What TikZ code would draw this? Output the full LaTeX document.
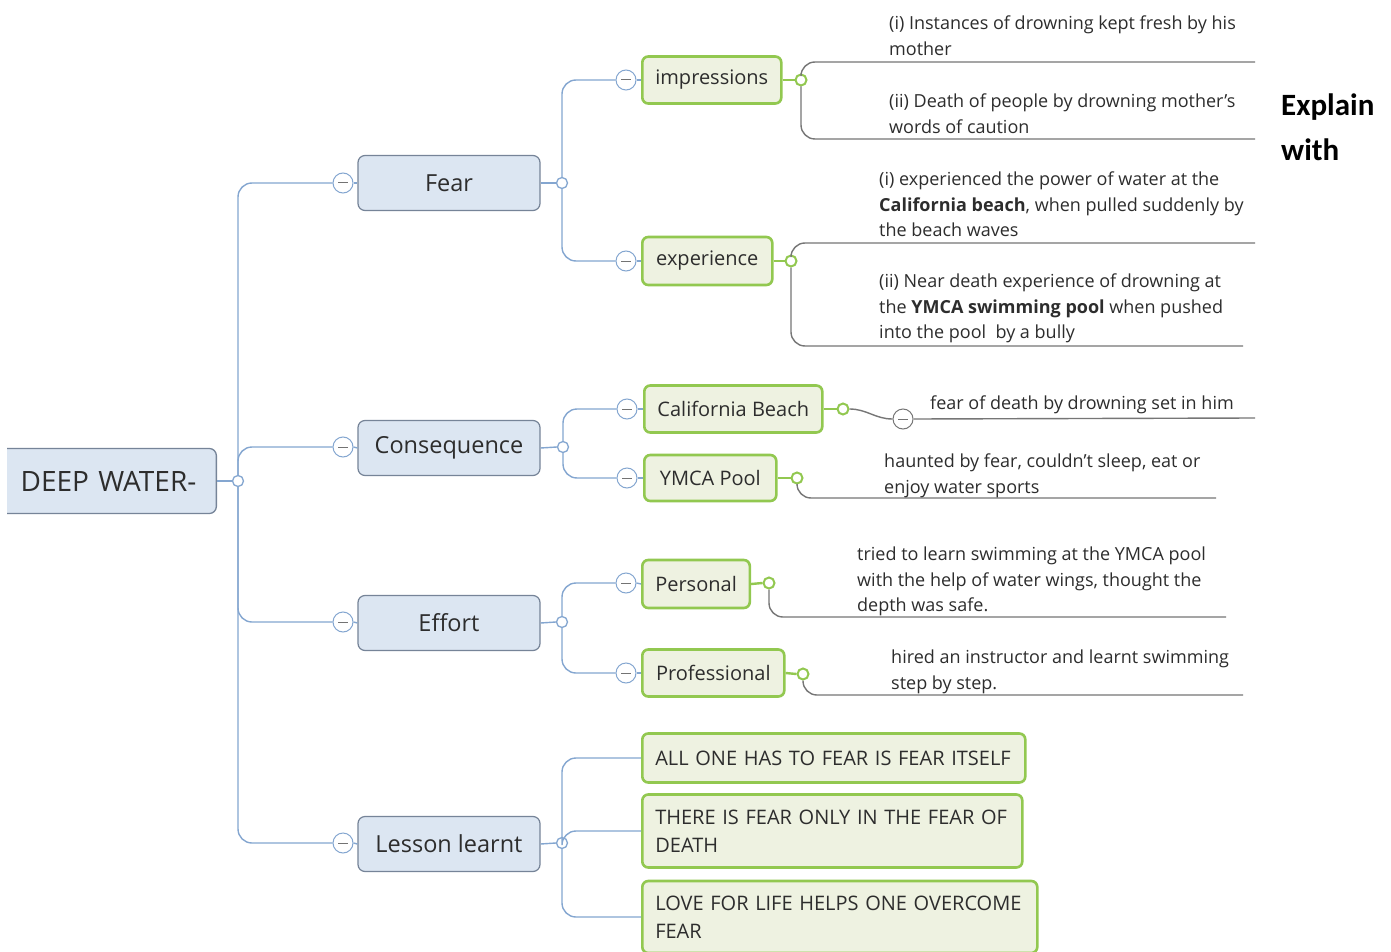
\documentclass[tikz,border=0pt]{standalone}
\usepackage{fontspec}
\setmainfont{Open Sans}
\newfontfamily\explainfont{Carlito}

\definecolor{mapblue}{RGB}{132,166,208}
\definecolor{topicfill}{RGB}{220,230,242}
\definecolor{topicline}{RGB}{118,132,152}
\definecolor{leafline}{RGB}{146,200,80}
\definecolor{leaffill}{RGB}{238,242,225}
\definecolor{notegray}{RGB}{118,118,118}
\definecolor{inktext}{RGB}{45,45,45}

\tikzset{
  rootbox/.style={rectangle, rounded corners=7pt, draw=topicline, line width=1.3pt, fill=topicfill,
    anchor=east, text width=192pt, align=right, inner xsep=20pt,
    minimum height=65pt, text=inktext, font=\fontsize{28}{34}\selectfont},
  topicbox/.style={rectangle, rounded corners=7pt, draw=topicline, line width=1.2pt, fill=topicfill,
    minimum width=182pt, minimum height=55pt, text=inktext, font=\fontsize{23.5}{28}\selectfont},
  leafbox/.style={rectangle, rounded corners=6pt, draw=leafline, line width=2.6pt, fill=leaffill,
    anchor=west, inner xsep=13pt, inner ysep=0pt, minimum height=47pt, align=left,
    text=inktext, font=\fontsize{20}{28}\selectfont},
  foldmark/.style={circle, draw=mapblue, line width=1pt, fill=white, minimum size=20pt, inner sep=0pt,
    path picture={\draw[line width=1pt, black!55] ([xshift=-5pt]path picture bounding box.center)
      -- ([xshift=5pt]path picture bounding box.center);}},
  notefold/.style={foldmark, draw=notegray},
  knob/.style={circle, draw=mapblue, line width=1.3pt, fill=white, minimum size=11pt, inner sep=0pt},
  leafknob/.style={knob, draw=leafline, line width=2pt},
  link/.style={draw=mapblue, line width=1.4pt, rounded corners=14pt},
  leaflink/.style={draw=leafline, line width=2.4pt},
  noteline/.style={draw=notegray, line width=1.4pt, rounded corners=14pt},
  note/.style={anchor=north west, inner sep=0pt, align=left, text=inktext,
    font=\fontsize{18}{25.5}\selectfont},
}

\begin{document}
\begin{tikzpicture}[x=1pt,y=-1pt]
  \useasboundingbox[fill=white] (0,0) rectangle (1391,952);

  % root
  \node[rootbox] (root) at (217,481) {DEEP WATER-};
  \fill[white] (0,440) rectangle (7,522);
  \node[knob] (rootknob) at (238,481) {};

  % topics
  \node[foldmark] (fearfold) at (343,183) {};
  \node[topicbox] (fear) at (449,183) {Fear};
  \node[knob] (fearknob) at (562,183) {};
  \node[foldmark] (consfold) at (343,447) {};
  \node[topicbox] (cons) at (449,448) {Consequence};
  \node[knob] (consknob) at (563,447) {};
  \node[foldmark] (efffold) at (343,622) {};
  \node[topicbox] (eff) at (449,623) {Effort};
  \node[knob] (effknob) at (562,622) {};
  \node[foldmark] (lessfold) at (343,843) {};
  \node[topicbox] (less) at (449,844) {Lesson learnt};
  \node[knob] (lessknob) at (562,843) {};

  % fear branch
  \node[foldmark] (impfold) at (626,80) {};
  \node[leafbox, minimum width=139pt] (imp) at (641,80) {impressions};
  \node[leafknob] (impknob) at (801,80) {};
  \node[foldmark] (expfold) at (626,261) {};
  \node[leafbox, minimum width=130pt, minimum height=48pt] (exp) at (641,261) {experience};
  \node[leafknob] (expknob) at (791,261) {};

  % consequence branch
  \node[foldmark] (cbfold) at (627,409) {};
  \node[leafbox, minimum width=178pt] (cb) at (643,409) {California Beach};
  \node[leafknob] (cbknob) at (843,409) {};
  \node[notefold] (cbnotefold) at (903,419) {};
  \node[foldmark] (ymfold) at (627,478) {};
  \node[leafbox, minimum width=132pt, minimum height=46pt] (ym) at (643,478) {YMCA Pool};
  \node[leafknob] (ymknob) at (797,478) {};

  % effort branch
  \node[foldmark] (persfold) at (626,583) {};
  \node[leafbox, minimum width=107pt, minimum height=48pt] (pers) at (641,584) {Personal};
  \node[leafknob] (persknob) at (769,583) {};
  \node[foldmark] (proffold) at (626,673) {};
  \node[leafbox, minimum width=142pt] (prof) at (641,673) {Professional};
  \node[leafknob] (profknob) at (803,674) {};

  % lessons
  \node[leafbox, text width=357pt, minimum height=49pt] (all) at (641,758) {ALL ONE HAS TO FEAR IS FEAR ITSELF};
  \node[leafbox, text width=354pt, minimum height=73pt] (only) at (641,831) {THERE IS FEAR ONLY IN THE FEAR OF\\DEATH};
  \node[leafbox, text width=369pt, minimum height=72pt] (love) at (641,917) {LOVE FOR LIFE HELPS ONE OVERCOME\\FEAR};

  % ends of the note lines
  \coordinate (impA) at (1255,62);
  \coordinate (impB) at (1255,139);
  \coordinate (expA) at (1255,243);
  \coordinate (expB) at (1243,346);
  \coordinate (cbEnd) at (1255,418);
  \coordinate (ymEnd) at (1216,498);
  \coordinate (persEnd) at (1226,617);
  \coordinate (profEnd) at (1243,695);

  % blue links
  \draw[link] (root.east) -- (rootknob.west);
  \draw[link] (rootknob.north) |- (fearfold.west);
  \draw[link] (rootknob.north) |- (consfold.west);
  \draw[link] (rootknob.south) |- (efffold.west);
  \draw[link] (rootknob.south) |- (lessfold.west);
  \foreach \t in {fear,cons,eff,less}{
    \draw[link] (\t fold.east) -- (\t.west);
    \draw[link] (\t.east) -- (\t knob.west);
  }
  \draw[link] (fearknob.north) |- (impfold.west);
  \draw[link] (fearknob.south) |- (expfold.west);
  \draw[link] (consknob.north) |- (cbfold.west);
  \draw[link] (consknob.south) |- (ymfold.west);
  \draw[link] (effknob.north) |- (persfold.west);
  \draw[link] (effknob.south) |- (proffold.west);
  \draw[link] (lessknob.north) |- (all.west);
  \draw[link] (lessknob.north) |- (only.west);
  \draw[link] (lessknob.south) |- (love.west);
  \foreach \t in {imp,exp,cb,ym,pers,prof}
    \draw[link] (\t fold.east) -- (\t.west);

  % green stubs
  \foreach \t in {imp,exp,cb,ym,pers,prof}
    \draw[leaflink] (\t.east) -- (\t knob.west);

  % gray note lines
  \draw[noteline] (impknob.north) |- (impA);
  \draw[noteline] (impknob.south) |- (impB);
  \draw[noteline] (expknob.north) |- (expA);
  \draw[noteline] (expknob.south) |- (expB);
  \draw[noteline] (cbknob.east) to[out=0,in=180] (cbnotefold.west);
  \draw[noteline] (cbnotefold.east) -- (cbEnd);
  \draw[noteline] (ymknob.south) |- (ymEnd);
  \draw[noteline] (persknob.south) |- (persEnd);
  \draw[noteline] (profknob.south) |- (profEnd);

  % notes
  \node[note] (impnote1) at (889,16) {(i) Instances of drowning kept fresh by his\\mother};
  \node[note] (impnote2) at (889,94) {(ii) Death of people by drowning mother's\\words of caution};
  \node[note] (expnote1) at (879,172) {(i) experienced the power of water at the\\\textbf{California beach}, when pulled suddenly by\\the beach waves};
  \node[note] (expnote2) at (879,274) {(ii) Near death experience of drowning at\\the \textbf{YMCA swimming pool} when pushed\\into the pool\ \ by a bully};
  \node[note] (cbnote) at (930,396) {fear of death by drowning set in him};
  \node[note] (ymnote) at (884,454) {haunted by fear, couldn't sleep, eat or\\enjoy water sports};
  \node[note] (persnote) at (857,547) {tried to learn swimming at the YMCA pool\\with the help of water wings, thought the\\depth was safe.};
  \node[note] (profnote) at (891,650) {hired an instructor and learnt swimming\\step by step.};

  % side text
  \node[anchor=north west, inner sep=0pt, align=left, font=\explainfont\bfseries\fontsize{31}{45}\selectfont] (explain) at (1281,94) {Explain\\with};
\end{tikzpicture}
\end{document}
